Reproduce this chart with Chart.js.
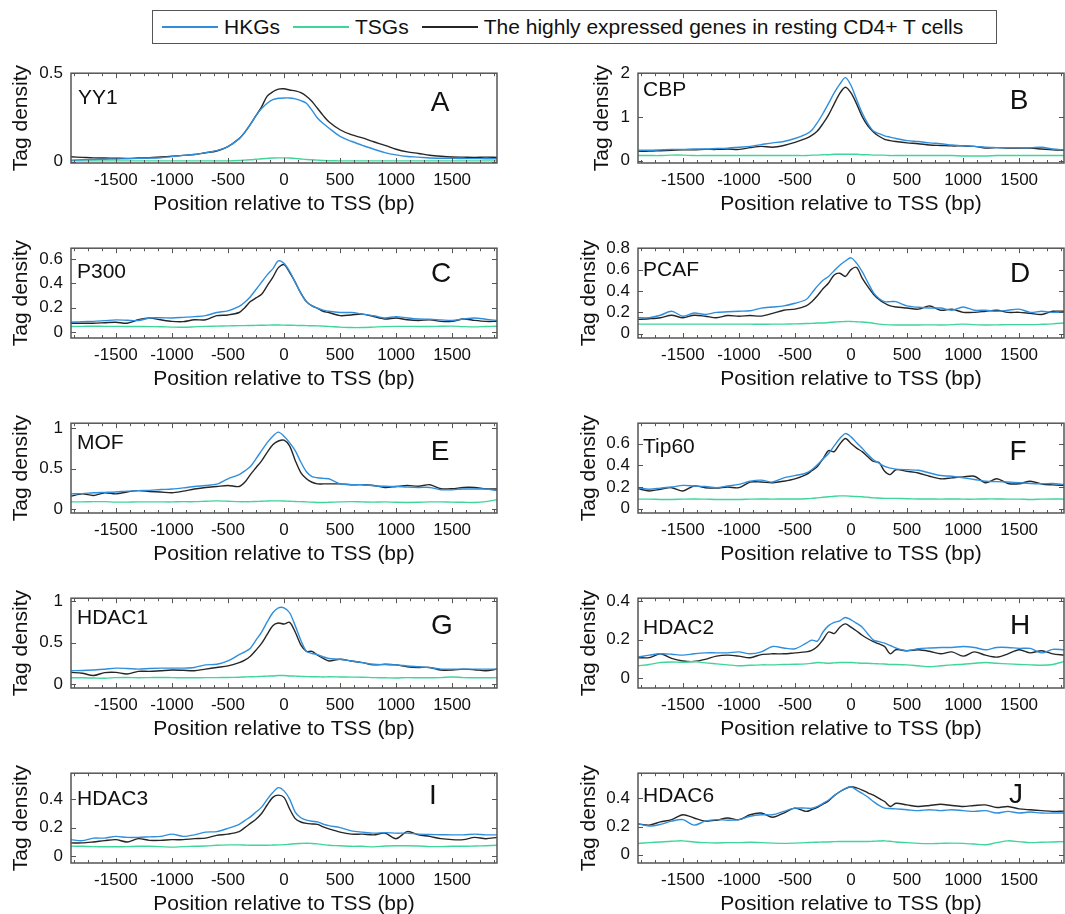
<!DOCTYPE html>
<html>
<head>
<meta charset="utf-8">
<script src="https://cdn.jsdelivr.net/npm/chart.js@4.4.1/dist/chart.umd.min.js"></script>
<style>
  body { margin: 0; width: 1065px; height: 914px; overflow: hidden; background: #fff; position: relative;
         font-family: "Liberation Sans", Arial, sans-serif; }
  canvas { position: absolute; }
  #legend { position: absolute; left: 152px; top: 10px; width: 845px; height: 34px; border: 1px solid #555;
            box-sizing: border-box; display: flex; align-items: center; padding-left: 9px;
            font-size: 21px; color: #111; white-space: nowrap; }
  #legend .sw { display: inline-block; width: 56px; height: 2px; margin-right: 6px; }
  #legend .txt { margin-right: 13px; }
</style>
</head>
<body>
<div id="legend"></div>
<script>
// positions relative to TSS (bp), shared by every panel
const positions = [-1900,-1800,-1700,-1600,-1500,-1400,-1300,-1200,-1100,-1000,-900,-800,-700,-600,-500,-400,
  -350,-300,-250,-200,-150,-100,-50,0,50,100,150,200,250,300,350,
  400,500,600,700,800,900,1000,1100,1200,1300,1400,1500,1600,1700,1800,1900];
const xTicks = [-1500, -1000, -500, 0, 500, 1000, 1500];
const seriesNames = ['HKGs', 'TSGs', 'The highly expressed genes in resting CD4+ T cells'];
const seriesColors = ['#2f8fdd', '#3ed69a', '#262626'];
const xTitle = 'Position relative to TSS (bp)';
const yTitle = 'Tag density';

// YY1
const yy1Hkg = [.008,.010,.012,.013,.015,.016,.018,.020,.022,.028,.035,.040,.050,.062,.085,.130,
  .165,.210,.260,.300,.330,.350,.358,.360,.360,.355,.345,.330,.290,.245,.215,
  .190,.143,.115,.092,.070,.051,.038,.029,.025,.020,.019,.018,.017,.017,.016,.016];
const yy1Tsg = [.004,.004,.004,.004,.004,.004,.004,.004,.004,.004,.004,.004,.004,.004,.004,.006,
  .008,.010,.013,.016,.018,.020,.021,.021,.020,.018,.015,.012,.010,.008,.006,
  .005,.004,.004,.004,.004,.004,.004,.004,.004,.004,.004,.004,.004,.004,.004,.004];
const yy1Cd4 = [.027,.024,.021,.020,.019,.018,.020,.022,.026,.030,.035,.040,.050,.060,.085,.130,
  .165,.210,.260,.310,.370,.395,.410,.412,.405,.400,.390,.370,.340,.300,.260,
  .225,.180,.152,.134,.112,.092,.070,.055,.046,.036,.030,.026,.025,.024,.025,.024];
// CBP
const cbpHkg = [.24,.24,.25,.26,.26,.27,.27,.28,.29,.31,.33,.37,.41,.44,.51,.61,
  .70,.87,1.08,1.31,1.55,1.75,1.90,1.72,1.40,1.09,.85,.68,.62,.57,.54,
  .51,.46,.44,.41,.39,.36,.34,.33,.31,.30,.30,.30,.30,.31,.27,.25];
const cbpTsg = [.12,.12,.12,.13,.13,.12,.12,.12,.12,.12,.12,.12,.12,.12,.12,.12,
  .13,.13,.14,.14,.15,.15,.15,.15,.15,.14,.14,.13,.13,.13,.12,
  .12,.12,.12,.12,.12,.12,.11,.11,.11,.12,.12,.12,.12,.12,.12,.12];
const cbpCd4 = [.22,.22,.23,.24,.25,.25,.26,.26,.27,.26,.30,.33,.31,.35,.42,.51,
  .58,.68,.85,1.05,1.30,1.54,1.68,1.55,1.30,1.01,.80,.66,.56,.49,.46,
  .44,.41,.39,.36,.35,.34,.34,.33,.29,.30,.29,.29,.29,.27,.25,.24];
// P300
const p300Hkg = [.080,.085,.087,.093,.099,.096,.094,.115,.117,.115,.120,.126,.134,.160,.174,.210,
  .245,.290,.350,.410,.470,.520,.585,.565,.500,.410,.320,.250,.215,.195,.180,
  .170,.160,.160,.147,.133,.115,.126,.115,.107,.105,.099,.094,.107,.115,.105,.094];
const p300Tsg = [.045,.046,.047,.046,.046,.045,.045,.044,.043,.040,.038,.042,.046,.048,.050,.052,
  .052,.053,.054,.055,.056,.057,.057,.056,.055,.054,.053,.052,.051,.050,.048,
  .046,.040,.036,.036,.040,.044,.046,.046,.045,.045,.047,.048,.044,.042,.045,.047];
const p300Cd4 = [.072,.072,.072,.076,.080,.072,.100,.115,.100,.087,.085,.100,.100,.134,.140,.160,
  .200,.250,.280,.310,.380,.450,.530,.555,.490,.410,.320,.250,.215,.195,.170,
  .160,.134,.140,.147,.126,.107,.115,.100,.094,.100,.087,.087,.107,.095,.087,.087];
// PCAF
const pcafHkg = [.150,.150,.173,.210,.164,.194,.180,.200,.205,.210,.215,.240,.250,.260,.285,.320,
  .380,.445,.500,.536,.590,.640,.680,.710,.660,.580,.480,.385,.330,.300,.300,
  .300,.260,.247,.240,.240,.220,.250,.220,.220,.210,.220,.230,.200,.210,.200,.200];
const pcafTsg = [.090,.090,.090,.090,.090,.090,.090,.090,.090,.090,.090,.088,.090,.090,.092,.095,
  .097,.100,.100,.105,.110,.112,.115,.115,.112,.110,.105,.098,.090,.085,.083,
  .082,.082,.082,.083,.082,.085,.090,.085,.082,.083,.085,.085,.085,.088,.092,.100];
const pcafCd4 = [.134,.140,.150,.173,.150,.173,.164,.150,.170,.164,.170,.165,.190,.220,.230,.260,
  .300,.355,.420,.475,.550,.566,.536,.600,.620,.520,.440,.370,.320,.285,.260,
  .250,.240,.230,.260,.220,.230,.200,.200,.210,.220,.200,.200,.190,.180,.210,.210];
// MOF
const mofHkg = [.187,.190,.200,.205,.210,.220,.226,.230,.240,.246,.260,.278,.290,.306,.373,.425,
  .470,.524,.620,.720,.820,.900,.950,.900,.820,.720,.580,.460,.400,.385,.378,
  .373,.310,.300,.300,.286,.280,.278,.270,.266,.266,.238,.238,.246,.246,.246,.226];
const mofTsg = [.087,.088,.090,.090,.085,.085,.087,.087,.087,.087,.090,.090,.095,.100,.095,.090,
  .090,.090,.092,.095,.098,.100,.100,.098,.095,.092,.090,.088,.085,.080,.080,
  .082,.087,.090,.087,.085,.087,.082,.080,.082,.087,.087,.085,.082,.080,.090,.115];
const mofCd4 = [.158,.187,.167,.200,.187,.210,.226,.215,.210,.200,.220,.246,.266,.278,.290,.278,
  .330,.425,.510,.595,.700,.794,.840,.850,.780,.600,.450,.373,.330,.310,.310,
  .310,.310,.300,.300,.290,.266,.278,.290,.280,.300,.250,.250,.266,.266,.250,.246];
// Tip60
const tip60Hkg = [.194,.180,.190,.200,.215,.210,.205,.194,.210,.224,.254,.264,.246,.285,.306,.330,
  .360,.406,.460,.510,.580,.648,.694,.664,.610,.558,.500,.452,.420,.390,.375,
  .366,.360,.355,.330,.306,.300,.285,.270,.254,.250,.246,.240,.233,.230,.233,.224];
const tip60Tsg = [.088,.088,.085,.085,.088,.090,.088,.085,.085,.085,.088,.090,.088,.090,.090,.092,
  .095,.100,.105,.110,.115,.118,.118,.115,.112,.110,.105,.100,.098,.095,.095,
  .095,.092,.090,.090,.088,.090,.088,.088,.090,.090,.088,.088,.085,.088,.090,.088];
const tip60Cd4 = [.185,.164,.180,.194,.164,.210,.194,.190,.200,.194,.246,.246,.240,.254,.276,.315,
  .350,.390,.460,.536,.527,.597,.648,.603,.560,.527,.480,.436,.427,.345,.315,
  .360,.345,.330,.300,.276,.285,.294,.300,.240,.276,.233,.230,.254,.228,.220,.215];
// HDAC1
const hdac1Hkg = [.163,.165,.171,.180,.194,.190,.182,.190,.194,.194,.194,.202,.233,.240,.280,.357,
  .390,.434,.530,.628,.750,.860,.919,.919,.860,.705,.530,.395,.370,.357,.330,
  .310,.300,.280,.260,.240,.236,.233,.220,.210,.200,.182,.182,.182,.182,.182,.182];
const hdac1Tsg = [.078,.078,.075,.072,.080,.082,.078,.080,.082,.080,.078,.078,.080,.080,.082,.085,
  .088,.090,.092,.095,.098,.100,.105,.105,.100,.098,.095,.092,.090,.090,.088,
  .090,.088,.086,.085,.080,.078,.075,.080,.078,.078,.080,.088,.080,.078,.078,.080];
const hdac1Cd4 = [.143,.132,.105,.140,.143,.124,.155,.155,.163,.171,.168,.163,.182,.202,.221,.260,
  .290,.337,.410,.492,.600,.705,.736,.725,.745,.628,.473,.395,.395,.349,.310,
  .280,.300,.280,.260,.233,.240,.233,.210,.202,.202,.171,.171,.182,.175,.163,.182];
// HDAC2
const hdac2Hkg = [.110,.120,.127,.125,.120,.127,.132,.132,.132,.137,.127,.137,.165,.157,.153,.182,
  .198,.193,.240,.273,.290,.298,.315,.303,.285,.265,.230,.198,.190,.182,.170,
  .157,.143,.153,.157,.160,.160,.165,.160,.148,.160,.160,.155,.155,.132,.150,.148];
const hdac2Tsg = [.065,.072,.082,.085,.083,.087,.080,.075,.070,.065,.068,.070,.070,.072,.073,.075,
  .078,.082,.080,.078,.080,.082,.082,.082,.080,.078,.078,.076,.075,.074,.072,
  .072,.070,.065,.060,.065,.070,.073,.078,.082,.078,.075,.072,.070,.068,.072,.087];
const hdac2Cd4 = [.107,.107,.127,.103,.090,.087,.098,.115,.120,.115,.107,.123,.127,.127,.132,.137,
  .145,.165,.200,.240,.232,.265,.282,.265,.245,.223,.205,.190,.178,.165,.127,
  .148,.143,.148,.140,.127,.137,.115,.137,.120,.110,.127,.148,.132,.143,.127,.120];
// HDAC3
const hdac3Hkg = [.115,.108,.126,.126,.138,.131,.131,.135,.138,.154,.138,.149,.168,.172,.195,.223,
  .250,.276,.310,.345,.400,.448,.483,.460,.402,.310,.270,.253,.245,.241,.225,
  .214,.200,.177,.168,.161,.165,.161,.161,.154,.152,.150,.149,.149,.154,.149,.149];
const hdac3Tsg = [.069,.068,.066,.065,.065,.066,.068,.068,.066,.062,.066,.068,.070,.075,.078,.078,
  .077,.076,.076,.076,.076,.077,.078,.080,.083,.086,.088,.090,.088,.085,.080,
  .075,.072,.068,.068,.064,.070,.072,.072,.070,.066,.066,.068,.068,.070,.072,.075];
const hdac3Cd4 = [.092,.092,.099,.108,.115,.099,.122,.110,.110,.115,.115,.122,.126,.145,.154,.172,
  .200,.230,.260,.300,.360,.414,.430,.414,.333,.264,.240,.230,.226,.223,.205,
  .191,.168,.154,.154,.149,.161,.122,.172,.149,.138,.122,.115,.115,.131,.122,.131];
// HDAC6
const hdac6Hkg = [.219,.203,.215,.238,.249,.210,.238,.249,.245,.249,.273,.284,.284,.308,.331,.331,
  .330,.343,.365,.389,.420,.448,.470,.483,.460,.436,.410,.378,.350,.331,.328,
  .326,.320,.313,.320,.313,.320,.313,.308,.313,.296,.308,.296,.303,.296,.296,.296];
const hdac6Tsg = [.079,.085,.090,.095,.098,.090,.085,.083,.085,.085,.088,.085,.082,.080,.082,.085,
  .087,.088,.090,.090,.092,.093,.093,.093,.093,.093,.093,.095,.097,.098,.095,
  .090,.085,.080,.078,.080,.082,.080,.075,.070,.085,.098,.092,.085,.088,.090,.092];
const hdac6Cd4 = [.219,.210,.233,.249,.284,.261,.238,.245,.261,.249,.284,.296,.266,.296,.331,.308,
  .320,.336,.360,.382,.420,.448,.470,.483,.475,.460,.440,.424,.400,.378,.343,
  .366,.354,.343,.350,.359,.350,.343,.350,.354,.336,.343,.326,.319,.313,.308,.310];

const panels = [
  { name: 'YY1',   letter: 'A', hkg: yy1Hkg,   tsg: yy1Tsg,   cd4: yy1Cd4,   yMin: -0.008, yMax: 0.5,   yTicks: [0, 0.5] },
  { name: 'CBP',   letter: 'B', hkg: cbpHkg,   tsg: cbpTsg,   cd4: cbpCd4,   yMin: -0.05,  yMax: 2.0,   yTicks: [0, 1, 2] },
  { name: 'P300',  letter: 'C', hkg: p300Hkg,  tsg: p300Tsg,  cd4: p300Cd4,  yMin: -0.05,  yMax: 0.69,  yTicks: [0, 0.2, 0.4, 0.6] },
  { name: 'PCAF',  letter: 'D', hkg: pcafHkg,  tsg: pcafTsg,  cd4: pcafCd4,  yMin: -0.04,  yMax: 0.8,   yTicks: [0, 0.2, 0.4, 0.6, 0.8] },
  { name: 'MOF',   letter: 'E', hkg: mofHkg,   tsg: mofTsg,   cd4: mofCd4,   yMin: -0.05,  yMax: 1.06,  yTicks: [0, 0.5, 1] },
  { name: 'Tip60', letter: 'F', hkg: tip60Hkg, tsg: tip60Tsg, cd4: tip60Cd4, yMin: -0.04,  yMax: 0.79,  yTicks: [0, 0.2, 0.4, 0.6] },
  { name: 'HDAC1', letter: 'G', hkg: hdac1Hkg, tsg: hdac1Tsg, cd4: hdac1Cd4, yMin: -0.045, yMax: 1.035, yTicks: [0, 0.5, 1] },
  { name: 'HDAC2', letter: 'H', hkg: hdac2Hkg, tsg: hdac2Tsg, cd4: hdac2Cd4, yMin: -0.05,  yMax: 0.415, yTicks: [0, 0.2, 0.4] },
  { name: 'HDAC3', letter: 'I', hkg: hdac3Hkg, tsg: hdac3Tsg, cd4: hdac3Cd4, yMin: -0.05,  yMax: 0.585, yTicks: [0, 0.2, 0.4] },
  { name: 'HDAC6', letter: 'J', hkg: hdac6Hkg, tsg: hdac6Tsg, cd4: hdac6Cd4, yMin: -0.06,  yMax: 0.58,  yTicks: [0, 0.2, 0.4] },
];

// where the panel name / letter sit inside each box (px from box left / top)
const labelSpots = [
  [7, 25, 369, 30], [5, 17, 381, 28],
  [6, 24, 370, 26], [5, 22, 382, 26],
  [6, 20, 369, 29], [5, 24, 380, 29],
  [6, 20, 371, 28], [5, 30, 382, 28],
  [6, 26, 362, 23], [5, 23, 378, 22],
];
// gap before the "Tag density" title, per panel
const yTitleGap = [9, 60, 9, 47, 9, 47, 9, 47, 9, 47];

const FONT = '"Liberation Sans", Arial, sans-serif';
const INK = '#111';

// legend
const legendEl = document.getElementById('legend');
seriesNames.forEach((n, i) => {
  const sw = document.createElement('span');
  sw.className = 'sw';
  sw.style.background = seriesColors[i];
  const t = document.createElement('span');
  t.className = 'txt';
  t.textContent = n;
  legendEl.appendChild(sw);
  legendEl.appendChild(t);
});

// box, inside ticks and the panel labels
const frame = {
  id: 'frame',
  afterDatasetsDraw(chart, args, opts) {
    const { ctx, chartArea: a, scales: { x, y } } = chart;
    ctx.save();
    ctx.strokeStyle = '#555';
    ctx.lineWidth = 1;
    ctx.beginPath();
    for (let v = -1875; v <= 1900; v += 125) {
      const px = Math.round(x.getPixelForValue(v)) + 0.5;
      const len = v % 500 === 0 ? 5 : 3;
      ctx.moveTo(px, a.bottom); ctx.lineTo(px, a.bottom - len);
      ctx.moveTo(px, a.top); ctx.lineTo(px, a.top + len);
    }
    opts.yTicks.forEach(v => {
      const py = Math.round(y.getPixelForValue(v)) + 0.5;
      ctx.moveTo(a.left, py); ctx.lineTo(a.left + 5, py);
      ctx.moveTo(a.right, py); ctx.lineTo(a.right - 5, py);
    });
    ctx.stroke();
    ctx.lineWidth = 1.5;
    ctx.strokeRect(a.left, a.top, a.right - a.left, a.bottom - a.top);

    const [nx, ny, lx, ly] = opts.spot;
    ctx.fillStyle = INK;
    ctx.textBaseline = 'middle';
    ctx.textAlign = 'left';
    ctx.font = '21px ' + FONT;
    ctx.fillText(opts.name, a.left + nx, a.top + ny);
    ctx.textAlign = 'center';
    ctx.font = '28px ' + FONT;
    ctx.fillText(opts.letter, a.left + lx, a.top + ly);
    ctx.restore();
  }
};

const line = (vals, color) => ({
  data: positions.map((p, k) => ({ x: p, y: vals[k] })),
  borderColor: color,
  borderWidth: 1.4,
  pointRadius: 0,
  tension: 0.3,
  fill: false,
});

panels.forEach((p, i) => {
  const col = i % 2, row = Math.floor(i / 2);
  const cv = document.createElement('canvas');
  cv.width = col ? 540 : 530;
  cv.height = 175;
  cv.style.left = (col ? 530 : 0) + 'px';
  cv.style.top = (55 + row * 175) + 'px';
  document.body.appendChild(cv);

  new Chart(cv, {
    type: 'line',
    data: {
      datasets: [line(p.hkg, seriesColors[0]), line(p.tsg, seriesColors[1]), line(p.cd4, seriesColors[2])]
    },
    options: {
      responsive: false,
      animation: false,
      devicePixelRatio: 1,
      layout: { padding: { left: 0, top: 15, right: col ? 6 : 33, bottom: 0 } },
      plugins: {
        legend: { display: false },
        tooltip: { enabled: false },
        frame: { name: p.name, letter: p.letter, yTicks: p.yTicks, spot: labelSpots[i] }
      },
      scales: {
        x: {
          type: 'linear',
          min: -1900,
          max: 1900,
          afterBuildTicks: s => { s.ticks = xTicks.map(v => ({ value: v })); },
          afterFit: s => { s.height = 67; },
          grid: { display: false, drawTicks: false },
          border: { display: false },
          ticks: { padding: 7, maxRotation: 0, autoSkip: false, color: INK,
                   font: { family: FONT, size: 17 }, callback: v => String(v) },
          title: { display: true, text: xTitle, color: INK, font: { family: FONT, size: 21 },
                   padding: { top: 0, bottom: 13 } }
        },
        y: {
          min: p.yMin,
          max: p.yMax,
          afterBuildTicks: s => { s.ticks = p.yTicks.map(v => ({ value: v })); },
          afterFit: s => { s.width = col ? 108 : 71; },
          grid: { display: false, drawTicks: false },
          border: { display: false },
          ticks: { padding: 8, autoSkip: false, color: INK, font: { family: FONT, size: 17 },
                   callback: v => String(v) },
          title: { display: true, text: yTitle, color: INK, font: { family: FONT, size: 21 },
                   padding: { top: yTitleGap[i], bottom: 0 } }
        }
      }
    },
    plugins: [frame]
  });
});
</script>
</body>
</html>
